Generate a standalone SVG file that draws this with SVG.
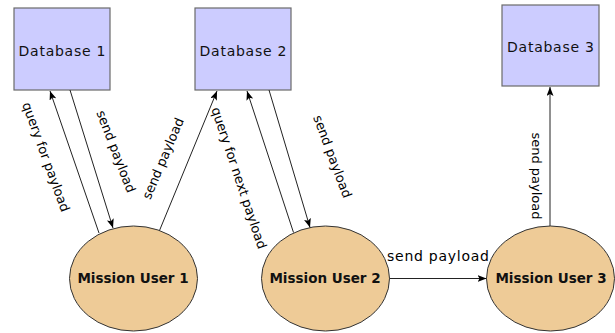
<svg xmlns="http://www.w3.org/2000/svg" width="615" height="333" viewBox="0 0 615 333">
<defs>
<marker id="ah" markerUnits="userSpaceOnUse" markerWidth="10" markerHeight="8" refX="9" refY="3.5" orient="auto">
<path d="M0,0 L9,3.5 L0,7 L2,3.5 z" fill="#000"/>
</marker>
<style>
.db{fill:#ccccff;stroke:#6a6a6a;stroke-width:1.2}
.mu{fill:#eecb97;stroke:#333;stroke-width:1}
.dbt{font-family:"DejaVu Sans",sans-serif;font-size:14px;fill:#111;text-anchor:middle}
.mut{font-family:"DejaVu Sans",sans-serif;font-size:13.5px;font-weight:bold;fill:#111;text-anchor:middle}
.lbl{font-family:"DejaVu Sans",sans-serif;font-size:13px;fill:#000;text-anchor:middle}
.cn{stroke:#222;stroke-width:1;fill:none;marker-end:url(#ah)}
</style>
</defs>
<rect width="615" height="333" fill="#fff"/>
<g id="db1"><rect class="db" x="14" y="8" width="96" height="82"/><text class="dbt" x="62" y="56" textLength="87" lengthAdjust="spacing">Database 1</text></g>
<g id="db2"><rect class="db" x="195" y="8" width="96" height="82"/><text class="dbt" x="243" y="56" textLength="87" lengthAdjust="spacing">Database 2</text></g>
<g id="db3"><rect class="db" x="502" y="5" width="97" height="81"/><text class="dbt" x="550.5" y="52" textLength="87" lengthAdjust="spacing">Database 3</text></g>
<g id="mu1"><ellipse class="mu" cx="133.5" cy="278.5" rx="64" ry="52.5"/><text class="mut" x="133" y="283">Mission User 1</text></g>
<g id="mu2"><ellipse class="mu" cx="325.5" cy="278.5" rx="64" ry="52.5"/><text class="mut" x="325" y="283">Mission User 2</text></g>
<g id="mu3"><ellipse class="mu" cx="550.5" cy="278.5" rx="64" ry="52.5"/><text class="mut" x="551" y="283">Mission User 3</text></g>
<g id="connectors">
<line class="cn" x1="99" y1="233" x2="50" y2="91"/>
<line class="cn" x1="70" y1="90" x2="113" y2="228"/>
<line class="cn" x1="159.5" y1="230.5" x2="217" y2="91"/>
<line class="cn" x1="293.5" y1="232.5" x2="247" y2="91"/>
<line class="cn" x1="269" y1="90" x2="310" y2="227.5"/>
<line class="cn" x1="550" y1="226" x2="550" y2="87"/>
<line class="cn" x1="389.5" y1="278.5" x2="486.5" y2="278.5"/>
<text class="lbl" transform="translate(46,157) rotate(70)" x="0" y="4.5">query for payload</text>
<text class="lbl" transform="translate(116,151.5) rotate(69)" x="0" y="4.5">send payload</text>
<text class="lbl" transform="translate(163,158.5) rotate(-67)" x="0" y="4.5">send payload</text>
<text class="lbl" transform="translate(239,178) rotate(71.5)" x="0" y="4.5">query for next payload</text>
<text class="lbl" transform="translate(332.5,156.5) rotate(69.5)" x="0" y="4.5">send payload</text>
<text class="lbl" transform="translate(536,176) rotate(90)" x="0" y="4.5">send payload</text>
<text class="lbl" x="438" y="261" style="font-size:14px" textLength="102" lengthAdjust="spacing">send payload</text>
</g>
</svg>
